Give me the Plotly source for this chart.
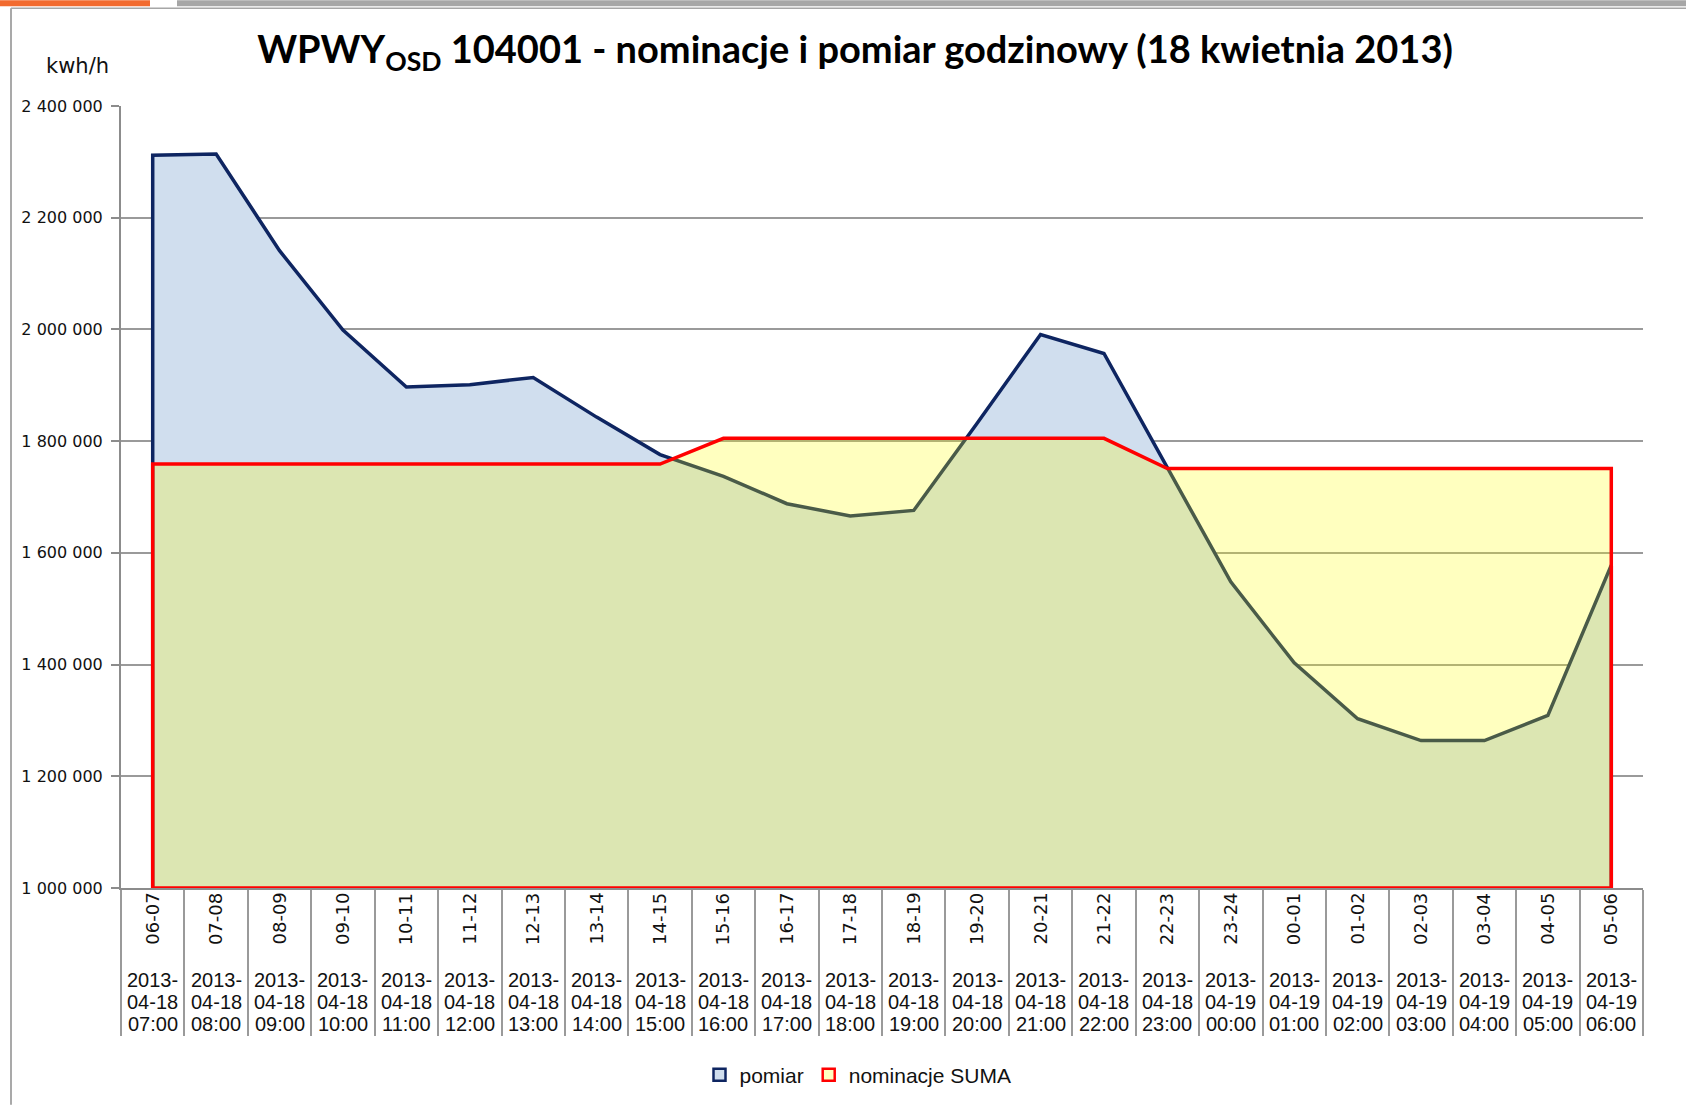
import plotly.graph_objects as go

# hour ranges on the category axis
godziny = ['06-07', '07-08', '08-09', '09-10', '10-11', '11-12', '12-13', '13-14',
           '14-15', '15-16', '16-17', '17-18', '18-19', '19-20', '20-21', '21-22',
           '22-23', '23-24', '00-01', '01-02', '02-03', '03-04', '04-05', '05-06']
daty = ['2013-04-18 07:00', '2013-04-18 08:00', '2013-04-18 09:00', '2013-04-18 10:00',
        '2013-04-18 11:00', '2013-04-18 12:00', '2013-04-18 13:00', '2013-04-18 14:00',
        '2013-04-18 15:00', '2013-04-18 16:00', '2013-04-18 17:00', '2013-04-18 18:00',
        '2013-04-18 19:00', '2013-04-18 20:00', '2013-04-18 21:00', '2013-04-18 22:00',
        '2013-04-18 23:00', '2013-04-19 00:00', '2013-04-19 01:00', '2013-04-19 02:00',
        '2013-04-19 03:00', '2013-04-19 04:00', '2013-04-19 05:00', '2013-04-19 06:00']

pomiar = [2312000, 2314000, 2141000, 1999000, 1897000, 1901000, 1914000, 1843000,
          1776000, 1737000, 1688000, 1666000, 1676000, 1832000, 1991000, 1957000,
          1754000, 1548000, 1403000, 1303000, 1264000, 1264000, 1309000, 1578000]
nominacje = [1759000, 1759000, 1759000, 1759000, 1759000, 1759000, 1759000, 1759000,
             1759000, 1805000, 1805000, 1805000, 1805000, 1805000, 1805000, 1805000,
             1751000, 1751000, 1751000, 1751000, 1751000, 1751000, 1751000, 1751000]

Y_MIN, Y_MAX, Y_STEP = 1000000, 2400000, 200000

W, H = 1686, 1106
L, R, T, B = 121, 1643, 106, 889   # plot area in pixels


def px(x):
    return (x - L) / (R - L)


def py(y):
    return (B - y) / (B - T)


def area(vals, close=False):
    # Excel-like area: drop to the axis at both ends
    xs = [godziny[0]] + godziny + [godziny[-1]]
    ys = [Y_MIN] + vals + [Y_MIN]
    if close:
        xs = xs + [godziny[0]]
        ys = ys + [Y_MIN]
    return xs, ys


fig = go.Figure()

x1, y1 = area(pomiar)
fig.add_trace(go.Scatter(
    x=x1, y=y1, mode='lines', fill='toself',
    fillcolor='rgb(208,222,238)',
    line=dict(color='#0E2561', width=3.5),
    showlegend=False, name='pomiar',
))

x2, y2 = area(nominacje, close=True)
fig.add_trace(go.Scatter(
    x=x2, y=y2, mode='lines', fill='toself',
    fillcolor='rgba(255,255,0,0.25)',
    line=dict(color='#FF0000', width=3.5),
    showlegend=False, name='nominacje SUMA',
))

# legend entries (Excel-style small squares)
fig.add_trace(go.Scatter(
    x=[None], y=[None], mode='markers', name='pomiar',
    marker=dict(symbol='square', size=12, color='rgb(208,222,238)',
                line=dict(color='#0E2561', width=2.5)),
))
fig.add_trace(go.Scatter(
    x=[None], y=[None], mode='markers', name='nominacje SUMA',
    marker=dict(symbol='square', size=12, color='rgb(255,255,192)',
                line=dict(color='#FF0000', width=2.5)),
))

label_font = 'DejaVu Sans'
narrow_font = 'Liberation Sans Narrow, Arial Narrow, Liberation Sans'

anns = []
for g, d in zip(godziny, daty):
    anns.append(dict(
        x=g, y=py(920), xref='x', yref='paper', text=g, textangle=-90,
        showarrow=False, xanchor='center', yanchor='middle',
        font=dict(family=label_font, size=18, color='#111'),
    ))
    dzien, godz = d.split(' ')
    # three lines, placed separately to keep Excel's tight line spacing
    for txt, yy in [(dzien[:5], 981), (dzien[5:], 1003), (godz, 1025)]:
        anns.append(dict(
            x=g, y=py(yy), xref='x', yref='paper', text=txt,
            showarrow=False, xanchor='center', yanchor='middle',
            font=dict(family=narrow_font, size=20, color='#111'),
        ))
anns.append(dict(
    x=px(77), y=py(66), xref='paper', yref='paper', text='kwh/h',
    showarrow=False, xanchor='center', yanchor='middle',
    font=dict(family=label_font, size=21, color='#111'),
))

shapes = [
    # orange tab + grey bar + frame
    dict(type='rect', xref='paper', yref='paper', x0=px(0), x1=px(150),
         y0=py(6), y1=py(0), fillcolor='#F26A2E', line=dict(width=0)),
    dict(type='rect', xref='paper', yref='paper', x0=px(177), x1=px(W),
         y0=py(6), y1=py(0), fillcolor='#A6A6A6', line=dict(width=0)),
    dict(type='line', xref='paper', yref='paper', x0=px(11), x1=px(11),
         y0=py(8), y1=py(H), line=dict(color='#8C8C8C', width=1.5)),
    dict(type='line', xref='paper', yref='paper', x0=px(11), x1=px(W),
         y0=py(8), y1=py(8), line=dict(color='#A6A6A6', width=1.5)),
]

fig.update_layout(
    width=W, height=H,
    margin=dict(l=L, r=W - R, t=T, b=H - B),
    paper_bgcolor='white', plot_bgcolor='white',
    separators=', ',
    title=dict(
        text='<b>WPWY<sub>OSD</sub> 104001 - nominacje i pomiar godzinowy (18 kwietnia 2013)</b>',
        x=px(855), xref='paper', xanchor='center',
        y=1 - 50 / H, yref='container', yanchor='middle',
        font=dict(family='Lato', size=38, color='#000'),
    ),
    xaxis=dict(
        type='category', categoryorder='array', categoryarray=godziny,
        range=[-0.5, len(godziny) - 0.5],
        showticklabels=False, showgrid=False, zeroline=False,
        showline=True, linecolor='#8C8C8C', linewidth=2,
        ticks='outside', tickson='boundaries', ticklen=146,
        tickcolor='#9A9A9A', tickwidth=1.5,
    ),
    yaxis=dict(
        range=[Y_MIN, Y_MAX], dtick=Y_STEP, tick0=Y_MIN, tickformat=',d',
        showgrid=True, gridcolor='#9A9A9A', gridwidth=1.5, zeroline=False,
        showline=True, linecolor='#8C8C8C', linewidth=2,
        ticks='outside', ticklen=8, tickcolor='#8C8C8C', tickwidth=1.5,
        ticklabelstandoff=5,
        tickfont=dict(family=label_font, size=16, color='#111'),
    ),
    legend=dict(
        orientation='h', x=px(858), xanchor='center', y=py(1075), yanchor='middle',
        font=dict(family=narrow_font, size=21, color='#111'),
        itemwidth=30, tracegroupgap=0, bgcolor='rgba(0,0,0,0)',
    ),
    annotations=anns,
    shapes=shapes,
)

# the page body has an 8px default margin; drop it so the figure fills the window
fig.write_html('out.html', config={'displayModeBar': False},
               post_script="document.body.style.margin='0';")
